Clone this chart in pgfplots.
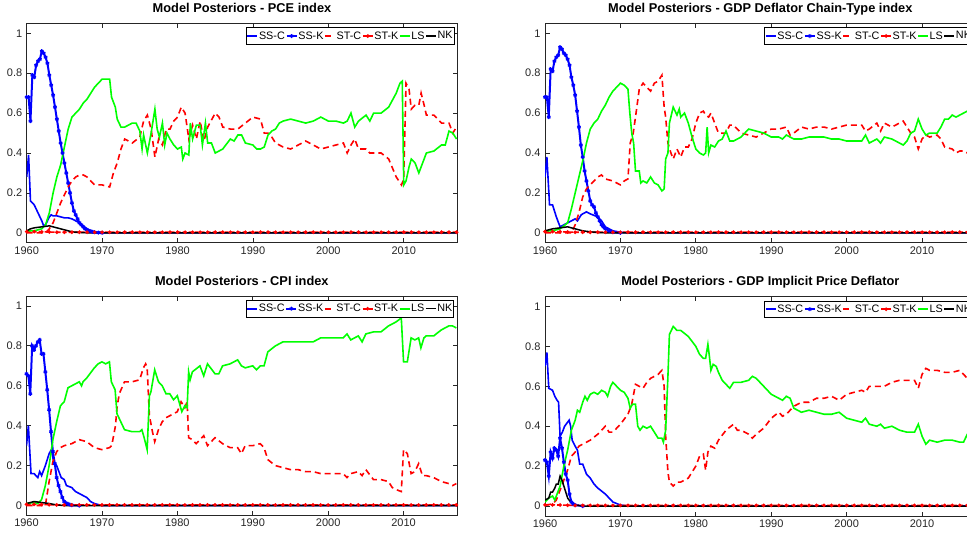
\documentclass[border=0pt]{standalone}
\usepackage{pgfplots}
\pgfplotsset{compat=1.18}
\usepackage{pgfplotstable}
\usepackage{fontspec}
\setmainfont{Liberation Sans}

\definecolor{axgray}{rgb}{0.15,0.15,0.15}

% ST-K stays at (almost) zero in every panel
\pgfplotstableread{
year val
1960 0.006
1961 0.006
1962 0.005
1963 0.004
1964 0.003
1965 0.003
1966 0.003
1967 0.003
1968 0.003
1969 0.003
1970 0.003
1971 0.003
1972 0.003
1973 0.003
1974 0.003
1975 0.003
1976 0.003
1977 0.003
1978 0.003
1979 0.003
1980 0.003
1981 0.003
1982 0.003
1983 0.003
1984 0.003
1985 0.003
1986 0.003
1987 0.003
1988 0.003
1989 0.003
1990 0.003
1991 0.003
1992 0.003
1993 0.003
1994 0.003
1995 0.003
1996 0.003
1997 0.003
1998 0.003
1999 0.003
2000 0.003
2001 0.003
2002 0.003
2003 0.003
2004 0.003
2005 0.003
2006 0.003
2007 0.003
2008 0.003
2009 0.003
2010 0.003
2011 0.003
2012 0.003
2013 0.003
2014 0.003
2015 0.003
2016 0.003
2017 0.003
}\stk

\pgfplotsset{
  mp/.style={
    scale only axis, width=430.6bp, height=219.5bp,
    xmin=1960, xmax=2017.1, ymin=-0.05, ymax=1.05,
    xtick={1960,1970,1980,1990,2000,2010},
    xticklabels={1960,1970,1980,1990,2000,2010},
    ytick={0,0.2,0.4,0.6,0.8,1},
    yticklabels={0,0.2,0.4,0.6,0.8,1},
    tick align=inside, major tick length=4.5bp,
    axis line style={draw=axgray, line width=0.8bp},
    major tick style={draw=axgray, line width=0.8bp},
    tick label style={font=\fontsize{11bp}{13bp}\selectfont, text=axgray},
    yticklabel style={xshift=-1bp},
    title style={font=\bfseries\fontsize{12.8bp}{14bp}\selectfont,
      at={(0.5,1)}, anchor=base, yshift=5bp, inner sep=0pt},
    legend columns=6,
    legend style={at={(1,1)}, anchor=north east, xshift=-3bp, yshift=-4bp,
      draw=black, line width=0.8bp, fill=white,
      font=\fontsize{10.8bp}{11.5bp}\selectfont,
      inner xsep=0.5bp, inner ysep=1bp, row sep=0pt,
      nodes={inner xsep=0.75bp, inner ysep=2.8bp},
      /tikz/every even column/.append style={column sep=0pt}},
    legend image code/.code={\draw[#1, mark repeat=2, mark phase=2]
      plot coordinates {(0bp,0bp) (5bp,0bp) (10bp,0bp)};},
  },
  ssc/.style={blue, line width=1.6bp},
  ssk/.style={blue, line width=2bp, mark=asterisk, mark size=2bp,
    mark options={solid, line width=1.1bp}},
  stc/.style={red, line width=1.6bp, dash pattern=on 6bp off 4bp},
  stk/.style={red, line width=1.6bp, dash pattern=on 4bp off 2bp, mark=*,
    mark size=0.9bp, mark options={solid}},
  ls/.style={green, line width=1.6bp},
  nk/.style={black, line width=1.5bp},
}

\begin{document}
\begin{tikzpicture}
\useasboundingbox (0,0) rectangle (967bp,-533bp);
\clip (0,0) rectangle (967bp,-533bp);

% ---------------- PCE ----------------
\begin{axis}[mp, at={(26.7bp,-23.3bp)}, anchor=north west,
  title={Model Posteriors - PCE index}]
\addplot[ssc] coordinates {(1960,0.28)(1960.25,0.39)(1960.5,0.16)(1960.75,0.15)(1961,0.14)(1961.25,0.12)(1961.5,0.10)(1961.75,0.08)(1962,0.06)(1962.25,0.035)(1962.5,0.04)(1962.75,0.06)(1963,0.08)(1963.25,0.09)(1963.5,0.085)(1964,0.085)(1964.5,0.08)(1965,0.075)(1965.5,0.075)(1966,0.07)(1966.5,0.06)(1967,0.05)(1967.5,0.035)(1968,0.02)(1968.5,0.01)(1969,0.005)(1970,0)(2017.2,0)};
\addplot[ssk] coordinates {(1960,0.68)(1960.25,0.68)(1960.5,0.56)(1960.75,0.79)(1961,0.78)(1961.25,0.84)(1961.5,0.86)(1961.75,0.87)(1962,0.91)(1962.25,0.90)(1962.5,0.88)(1962.75,0.85)(1963,0.79)(1963.25,0.74)(1963.5,0.69)(1963.75,0.63)(1964,0.57)(1964.25,0.51)(1964.5,0.45)(1964.75,0.40)(1965,0.35)(1965.25,0.30)(1965.5,0.25)(1965.75,0.20)(1966,0.15)(1966.25,0.11)(1966.5,0.09)(1966.75,0.07)(1967,0.05)(1967.25,0.04)(1967.5,0.03)(1967.75,0.02)(1968,0.015)(1968.25,0.01)(1968.5,0.008)(1968.75,0.005)(1969,0.003)(1969.5,0.001)(1970,0)};
\addplot[stc] coordinates {(1960,0)(1962.5,0)(1963,0.02)(1963.5,0.05)(1964,0.1)(1964.5,0.15)(1965,0.19)(1965.5,0.23)(1966,0.26)(1966.5,0.28)(1967,0.29)(1967.5,0.29)(1968,0.28)(1968.5,0.26)(1969,0.24)(1970,0.24)(1971,0.23)(1971.5,0.30)(1972,0.35)(1972.5,0.42)(1973,0.47)(1974,0.45)(1975,0.48)(1975.5,0.56)(1976,0.59)(1976.5,0.52)(1977,0.38)(1977.5,0.47)(1978,0.44)(1978.5,0.52)(1979,0.52)(1979.5,0.56)(1980,0.58)(1980.5,0.63)(1981,0.60)(1981.5,0.47)(1982,0.54)(1982.5,0.47)(1983,0.56)(1983.5,0.46)(1984,0.53)(1985,0.60)(1985.5,0.58)(1986,0.53)(1987,0.52)(1988,0.52)(1989,0.55)(1990,0.58)(1991,0.57)(1991.5,0.50)(1992,0.50)(1992.5,0.48)(1993,0.45)(1994,0.43)(1995,0.42)(1996,0.44)(1997,0.46)(1998,0.44)(1999,0.42)(2000,0.43)(2001,0.44)(2002,0.45)(2002.5,0.40)(2003,0.44)(2003.5,0.47)(2004,0.42)(2005,0.42)(2005.5,0.40)(2007,0.40)(2008,0.37)(2009,0.28)(2009.7,0.24)(2010,0.27)(2010.3,0.75)(2010.7,0.72)(2011,0.62)(2011.5,0.64)(2012,0.64)(2012.3,0.70)(2012.7,0.64)(2013,0.59)(2014,0.59)(2015,0.55)(2016,0.55)(2016.5,0.50)(2017,0.53)};
\addplot[stk] table[x=year, y=val] {\stk};
\addplot[ls] coordinates {(1960,0.01)(1961,0.01)(1962,0.02)(1962.5,0.04)(1963,0.1)(1963.5,0.2)(1964,0.28)(1964.5,0.34)(1965,0.43)(1965.5,0.52)(1966,0.58)(1966.5,0.60)(1967,0.62)(1967.5,0.65)(1968,0.67)(1968.5,0.70)(1969,0.73)(1969.5,0.75)(1970,0.77)(1970.5,0.77)(1971,0.77)(1971.25,0.68)(1971.75,0.63)(1972,0.57)(1972.5,0.53)(1973,0.53)(1974,0.55)(1974.5,0.55)(1975,0.51)(1975.3,0.42)(1975.5,0.49)(1976,0.40)(1976.5,0.50)(1977,0.62)(1977.3,0.52)(1977.6,0.48)(1978,0.55)(1978.3,0.44)(1978.6,0.50)(1979,0.47)(1979.5,0.44)(1980,0.42)(1980.5,0.43)(1980.7,0.37)(1981,0.40)(1981.5,0.39)(1981.7,0.55)(1982,0.47)(1982.5,0.54)(1983,0.54)(1983.3,0.44)(1983.7,0.55)(1984,0.45)(1984.5,0.45)(1985,0.40)(1986,0.42)(1987,0.47)(1987.5,0.46)(1988,0.49)(1988.5,0.49)(1989,0.45)(1990,0.44)(1990.5,0.42)(1991,0.42)(1991.5,0.43)(1992,0.49)(1992.5,0.51)(1993,0.52)(1993.5,0.55)(1994,0.56)(1995,0.57)(1996,0.56)(1997,0.55)(1998,0.56)(1999,0.58)(2000,0.56)(2001,0.56)(2002,0.55)(2002.5,0.56)(2003,0.60)(2003.5,0.53)(2004,0.56)(2005,0.59)(2005.5,0.56)(2006,0.60)(2007,0.60)(2008,0.63)(2009,0.70)(2009.5,0.75)(2009.8,0.76)(2010,0.24)(2010.3,0.26)(2010.7,0.33)(2011,0.37)(2011.5,0.35)(2012,0.30)(2012.5,0.35)(2013,0.40)(2014,0.41)(2015,0.44)(2015.5,0.44)(2016,0.51)(2016.5,0.50)(2017,0.47)};
\addplot[nk] coordinates {(1960,0.01)(1960.5,0.02)(1961,0.025)(1962,0.03)(1963,0.035)(1963.5,0.03)(1964,0.025)(1965,0.015)(1966,0.005)(1967,0.002)(1968,0)(2017.2,0)};
\legend{SS-C,SS-K,ST-C,ST-K,LS,NK}
\end{axis}

% ---------------- GDP Deflator Chain-Type ----------------
\begin{axis}[mp, at={(545bp,-23.3bp)}, anchor=north west,
  title={Model Posteriors - GDP Deflator Chain-Type index}]
\addplot[ssc] coordinates {(1960,0.28)(1960.25,0.38)(1960.6,0.14)(1961,0.14)(1961.5,0.08)(1962,0.03)(1963,0.05)(1964,0.07)(1964.3,0.06)(1964.8,0.09)(1965,0.095)(1965.5,0.105)(1966,0.095)(1967,0.08)(1967.5,0.06)(1968,0.03)(1969,0.01)(1970,0.003)(1971,0)(2017.2,0)};
\addplot[ssk] coordinates {(1960,0.68)(1960.25,0.68)(1960.5,0.58)(1960.75,0.82)(1961,0.81)(1961.25,0.86)(1961.5,0.88)(1961.75,0.89)(1962,0.93)(1962.25,0.92)(1962.5,0.90)(1962.75,0.89)(1963,0.87)(1963.25,0.84)(1963.5,0.78)(1963.75,0.74)(1964,0.69)(1964.25,0.61)(1964.5,0.53)(1964.75,0.44)(1965,0.38)(1965.25,0.31)(1965.5,0.26)(1965.75,0.21)(1966,0.16)(1966.25,0.14)(1966.5,0.13)(1966.75,0.10)(1967,0.08)(1967.25,0.06)(1967.5,0.04)(1967.75,0.03)(1968,0.02)(1968.5,0.01)(1969,0.003)(1970,0)};
\addplot[stc] coordinates {(1960,0)(1963.5,0)(1964,0.04)(1964.5,0.1)(1965,0.18)(1965.5,0.22)(1966,0.24)(1967,0.28)(1967.5,0.29)(1968,0.27)(1969,0.26)(1970,0.24)(1970.5,0.26)(1971,0.27)(1971.3,0.45)(1971.7,0.50)(1972,0.58)(1972.5,0.72)(1973,0.75)(1973.5,0.73)(1974,0.71)(1974.5,0.75)(1975,0.76)(1975.5,0.79)(1975.8,0.63)(1976,0.58)(1976.3,0.45)(1976.7,0.40)(1977,0.37)(1977.5,0.42)(1978,0.38)(1978.5,0.43)(1979,0.43)(1979.5,0.47)(1980,0.55)(1980.5,0.60)(1981,0.61)(1981.3,0.59)(1981.7,0.58)(1982,0.60)(1982.5,0.55)(1983,0.50)(1984,0.50)(1984.5,0.54)(1985,0.54)(1986,0.50)(1987,0.49)(1988,0.48)(1989,0.50)(1990,0.52)(1991,0.52)(1992,0.53)(1992.5,0.49)(1993,0.50)(1994,0.53)(1995,0.52)(1996,0.53)(1997,0.53)(1998,0.52)(1999,0.53)(2000,0.54)(2001,0.54)(2002,0.54)(2002.5,0.51)(2003,0.52)(2004,0.55)(2004.5,0.51)(2005,0.55)(2006,0.53)(2007,0.55)(2007.5,0.56)(2008,0.53)(2008.5,0.50)(2009,0.48)(2009.5,0.42)(2010,0.47)(2010.5,0.49)(2011,0.48)(2012,0.49)(2012.5,0.47)(2013,0.43)(2014,0.42)(2014.5,0.40)(2015,0.41)(2015.5,0.41)(2016,0.40)(2017,0.40)};
\addplot[stk] table[x=year, y=val] {\stk};
\addplot[ls] coordinates {(1960,0.01)(1961,0.01)(1962,0.02)(1963,0.05)(1963.5,0.12)(1964,0.2)(1964.5,0.28)(1965,0.36)(1965.5,0.45)(1966,0.52)(1966.5,0.55)(1967,0.57)(1967.5,0.61)(1968,0.64)(1968.5,0.68)(1969,0.71)(1969.5,0.73)(1970,0.75)(1970.5,0.74)(1971,0.72)(1971.25,0.60)(1971.5,0.50)(1971.75,0.45)(1972,0.31)(1972.5,0.31)(1972.7,0.25)(1973,0.26)(1973.5,0.25)(1974,0.28)(1974.5,0.25)(1975,0.24)(1975.5,0.21)(1975.8,0.22)(1976,0.37)(1976.3,0.40)(1976.5,0.55)(1977,0.63)(1977.5,0.59)(1977.8,0.62)(1978,0.58)(1978.5,0.60)(1979,0.55)(1979.5,0.48)(1980,0.42)(1980.5,0.40)(1981,0.39)(1981.3,0.40)(1981.5,0.53)(1981.7,0.40)(1982,0.44)(1982.5,0.43)(1983,0.46)(1983.5,0.47)(1984,0.51)(1984.5,0.46)(1985,0.46)(1986,0.48)(1987,0.52)(1988,0.51)(1989,0.50)(1990,0.48)(1991,0.48)(1991.5,0.47)(1992,0.49)(1993,0.47)(1994,0.47)(1995,0.48)(1996,0.48)(1997,0.48)(1998,0.47)(1999,0.47)(2000,0.46)(2001,0.46)(2002,0.46)(2002.5,0.49)(2003,0.45)(2004,0.47)(2004.5,0.45)(2005,0.48)(2006,0.47)(2007,0.45)(2007.5,0.44)(2008,0.46)(2008.5,0.50)(2009,0.51)(2009.5,0.57)(2010,0.52)(2010.5,0.49)(2011,0.50)(2012,0.50)(2012.5,0.53)(2013,0.57)(2013.5,0.57)(2014,0.59)(2014.5,0.58)(2015,0.59)(2015.5,0.60)(2016,0.61)(2017,0.62)};
\addplot[nk] coordinates {(1960,0.01)(1961,0.02)(1962,0.025)(1963,0.03)(1963.5,0.025)(1964,0.02)(1965,0.01)(1966,0.005)(1967,0.002)(1968,0)(2017.2,0)};
\legend{SS-C,SS-K,ST-C,ST-K,LS,NK}
\end{axis}

% ---------------- CPI ----------------
\begin{axis}[mp, at={(26.5bp,-296bp)}, anchor=north west,
  title={Model Posteriors - CPI index}]
\addplot[ssc] coordinates {(1960,0.30)(1960.25,0.40)(1960.6,0.16)(1961,0.16)(1961.5,0.14)(1961.75,0.17)(1962,0.15)(1962.5,0.20)(1963,0.26)(1963.3,0.28)(1963.6,0.22)(1964,0.20)(1964.3,0.17)(1964.6,0.14)(1965,0.13)(1965.3,0.10)(1966,0.09)(1966.5,0.07)(1967,0.06)(1968,0.04)(1968.5,0.02)(1969,0.01)(1970,0)(2017.2,0)};
\addplot[ssk] coordinates {(1960,0.66)(1960.25,0.65)(1960.5,0.56)(1960.75,0.80)(1961,0.78)(1961.25,0.80)(1961.5,0.82)(1961.75,0.83)(1962,0.76)(1962.25,0.76)(1962.5,0.67)(1962.75,0.58)(1963,0.48)(1963.25,0.37)(1963.5,0.27)(1963.75,0.21)(1964,0.14)(1964.25,0.10)(1964.5,0.07)(1964.75,0.04)(1965,0.02)(1965.25,0.012)(1965.5,0.008)(1965.75,0.004)(1966,0.002)(1967,0)};
\addplot[stc] coordinates {(1960,0)(1962.5,0)(1963,0.12)(1963.5,0.22)(1964,0.27)(1964.5,0.29)(1965,0.30)(1966,0.31)(1967,0.33)(1968,0.32)(1969,0.29)(1970,0.28)(1971,0.29)(1971.3,0.30)(1971.8,0.40)(1972,0.49)(1972.3,0.56)(1973,0.62)(1974,0.62)(1975,0.63)(1975.5,0.69)(1975.8,0.71)(1976,0.69)(1976.3,0.45)(1976.7,0.37)(1977,0.32)(1977.5,0.38)(1978,0.42)(1978.5,0.44)(1979,0.45)(1980,0.47)(1980.5,0.52)(1981,0.49)(1981.3,0.52)(1981.5,0.34)(1982,0.33)(1982.5,0.31)(1983,0.33)(1983.5,0.35)(1984,0.30)(1985,0.34)(1986,0.31)(1987,0.29)(1988,0.29)(1988.5,0.26)(1989,0.30)(1990,0.30)(1991,0.31)(1991.5,0.29)(1992,0.23)(1993,0.20)(1994,0.19)(1995,0.18)(1996,0.18)(1997,0.17)(1998,0.17)(1999,0.16)(2000,0.16)(2001,0.16)(2002,0.16)(2002.5,0.14)(2003,0.16)(2004,0.17)(2004.5,0.15)(2005,0.18)(2006,0.13)(2007,0.13)(2008,0.12)(2008.5,0.09)(2009,0.08)(2009.7,0.07)(2010,0.28)(2010.5,0.26)(2011,0.16)(2011.5,0.17)(2012,0.21)(2012.5,0.15)(2013,0.15)(2014,0.14)(2015,0.12)(2016,0.11)(2016.5,0.10)(2017,0.11)};
\addplot[stk] table[x=year, y=val] {\stk};
\addplot[ls] coordinates {(1960,0.01)(1961,0.015)(1961.5,0.01)(1962,0.03)(1962.5,0.10)(1963,0.20)(1963.5,0.33)(1964,0.42)(1964.5,0.50)(1965,0.52)(1965.5,0.59)(1966,0.60)(1966.5,0.61)(1967,0.62)(1967.3,0.60)(1967.5,0.62)(1968,0.64)(1969,0.69)(1969.5,0.71)(1970,0.72)(1970.5,0.71)(1971,0.72)(1971.25,0.62)(1971.75,0.58)(1972,0.46)(1972.5,0.42)(1973,0.38)(1974,0.37)(1975,0.37)(1975.3,0.38)(1975.6,0.34)(1976,0.28)(1976.3,0.55)(1976.5,0.57)(1977,0.68)(1977.5,0.62)(1978,0.60)(1978.5,0.56)(1979,0.56)(1979.5,0.53)(1980,0.55)(1980.3,0.51)(1980.6,0.47)(1981,0.50)(1981.3,0.49)(1981.5,0.67)(1981.7,0.63)(1982,0.67)(1983,0.70)(1983.5,0.65)(1984,0.71)(1985,0.66)(1985.5,0.66)(1986,0.70)(1987,0.71)(1988,0.73)(1988.5,0.70)(1989,0.69)(1990,0.70)(1990.5,0.68)(1991,0.70)(1991.5,0.70)(1992,0.77)(1993,0.80)(1994,0.82)(1995,0.82)(1996,0.82)(1997,0.82)(1998,0.82)(1999,0.84)(2000,0.84)(2001,0.84)(2002,0.84)(2002.5,0.86)(2003,0.83)(2004,0.85)(2004.5,0.82)(2005,0.86)(2006,0.87)(2007,0.87)(2008,0.90)(2009,0.92)(2009.7,0.94)(2010,0.72)(2010.5,0.72)(2011,0.84)(2011.5,0.83)(2012,0.84)(2012.3,0.79)(2012.7,0.84)(2013,0.85)(2014,0.85)(2015,0.88)(2016,0.90)(2016.5,0.90)(2017,0.89)};
\addplot[nk] coordinates {(1960,0.01)(1960.5,0.015)(1961,0.02)(1962,0.015)(1963,0.01)(1964,0.003)(1965,0)(2017.2,0)};
\legend{SS-C,SS-K,ST-C,ST-K,LS,NK}
\end{axis}

% ---------------- GDP Implicit Price Deflator ----------------
\begin{axis}[mp, at={(545bp,-296.5bp)}, anchor=north west,
  title={Model Posteriors - GDP Implicit Price Deflator}]
\addplot[ssc] coordinates {(1960,0.70)(1960.25,0.77)(1960.5,0.59)(1961,0.58)(1961.3,0.55)(1961.6,0.53)(1961.8,0.52)(1962,0.35)(1962.3,0.37)(1962.6,0.40)(1963,0.42)(1963.2,0.43)(1963.4,0.40)(1963.6,0.33)(1964,0.30)(1964.3,0.28)(1964.6,0.21)(1965,0.21)(1965.5,0.16)(1966,0.14)(1966.5,0.11)(1967,0.09)(1968,0.06)(1968.5,0.04)(1969,0.02)(1970,0.005)(1971,0)(2017.2,0)};
\addplot[ssk] coordinates {(1960,0.23)(1960.25,0.22)(1960.5,0.15)(1960.75,0.27)(1961,0.24)(1961.25,0.29)(1961.5,0.28)(1961.75,0.25)(1962,0.34)(1962.25,0.29)(1962.5,0.22)(1962.75,0.16)(1963,0.13)(1963.25,0.06)(1963.5,0.02)(1963.75,0.01)(1964,0.005)(1965,0)};
\addplot[stc] coordinates {(1960,0.005)(1961,0.01)(1961.5,0.03)(1962,0.08)(1962.5,0.13)(1963,0.18)(1963.5,0.25)(1964,0.27)(1964.5,0.30)(1965,0.31)(1966,0.33)(1967,0.36)(1968,0.40)(1968.5,0.37)(1969,0.37)(1970,0.41)(1971,0.46)(1971.5,0.51)(1972,0.61)(1972.5,0.60)(1973,0.59)(1973.5,0.62)(1974,0.64)(1975,0.66)(1975.5,0.68)(1975.8,0.60)(1976,0.35)(1976.3,0.17)(1976.5,0.12)(1977,0.10)(1977.5,0.12)(1978,0.12)(1979,0.14)(1980,0.20)(1980.5,0.25)(1981,0.26)(1981.3,0.18)(1981.6,0.27)(1982,0.30)(1982.5,0.29)(1983,0.33)(1984,0.38)(1985,0.41)(1985.5,0.38)(1986,0.38)(1987,0.36)(1987.5,0.34)(1988,0.36)(1989,0.39)(1990,0.44)(1991,0.47)(1991.5,0.45)(1992,0.46)(1993,0.50)(1994,0.52)(1995,0.52)(1996,0.54)(1997,0.54)(1998,0.55)(1999,0.53)(2000,0.56)(2001,0.57)(2002,0.58)(2002.5,0.57)(2003,0.60)(2004,0.60)(2005,0.60)(2006,0.62)(2007,0.63)(2008,0.63)(2009,0.63)(2009.5,0.59)(2010,0.66)(2010.5,0.69)(2011,0.68)(2012,0.68)(2013,0.67)(2014,0.67)(2015,0.68)(2015.5,0.66)(2016,0.64)(2017,0.66)};
\addplot[stk] table[x=year, y=val] {\stk};
\addplot[ls] coordinates {(1960,0.02)(1960.5,0.04)(1961,0.05)(1961.3,0.03)(1961.6,0.06)(1962,0.10)(1962.5,0.20)(1963,0.28)(1963.5,0.38)(1964,0.43)(1964.3,0.48)(1964.6,0.47)(1965,0.52)(1965.3,0.55)(1965.6,0.53)(1966,0.56)(1966.5,0.57)(1967,0.56)(1967.5,0.58)(1968,0.57)(1968.3,0.55)(1968.7,0.60)(1969,0.62)(1969.5,0.60)(1970,0.58)(1970.5,0.57)(1971,0.54)(1971.3,0.49)(1971.6,0.51)(1972,0.51)(1972.3,0.40)(1972.6,0.38)(1973,0.40)(1973.5,0.39)(1974,0.40)(1974.5,0.37)(1975,0.34)(1975.5,0.34)(1975.7,0.32)(1976,0.38)(1976.3,0.65)(1976.5,0.86)(1977,0.90)(1977.5,0.88)(1978,0.88)(1979,0.85)(1980,0.80)(1980.5,0.76)(1981,0.74)(1981.3,0.74)(1981.6,0.81)(1981.8,0.75)(1982,0.68)(1982.3,0.71)(1982.7,0.70)(1983,0.67)(1983.5,0.63)(1984,0.61)(1984.5,0.59)(1985,0.62)(1986,0.62)(1987,0.63)(1987.5,0.65)(1988,0.64)(1989,0.60)(1990,0.56)(1991,0.54)(1991.5,0.53)(1992,0.55)(1992.5,0.54)(1993,0.49)(1994,0.47)(1995,0.48)(1996,0.47)(1997,0.46)(1998,0.46)(1999,0.47)(2000,0.44)(2001,0.43)(2002,0.42)(2002.5,0.44)(2003,0.41)(2004,0.40)(2004.5,0.41)(2005,0.39)(2006,0.40)(2007,0.38)(2008,0.37)(2009,0.37)(2009.5,0.41)(2010,0.35)(2010.5,0.31)(2011,0.33)(2012,0.32)(2013,0.33)(2014,0.33)(2015,0.32)(2015.5,0.32)(2016,0.36)(2017,0.36)};
\addplot[nk] coordinates {(1960,0.03)(1960.5,0.04)(1960.75,0.07)(1961,0.07)(1961.3,0.09)(1961.5,0.11)(1961.75,0.11)(1962,0.15)(1962.25,0.13)(1962.5,0.10)(1962.75,0.07)(1963,0.04)(1963.5,0.015)(1964,0.005)(1965,0)(2017.2,0)};
\legend{SS-C,SS-K,ST-C,ST-K,LS,NK}
\end{axis}
\end{tikzpicture}
\end{document}
